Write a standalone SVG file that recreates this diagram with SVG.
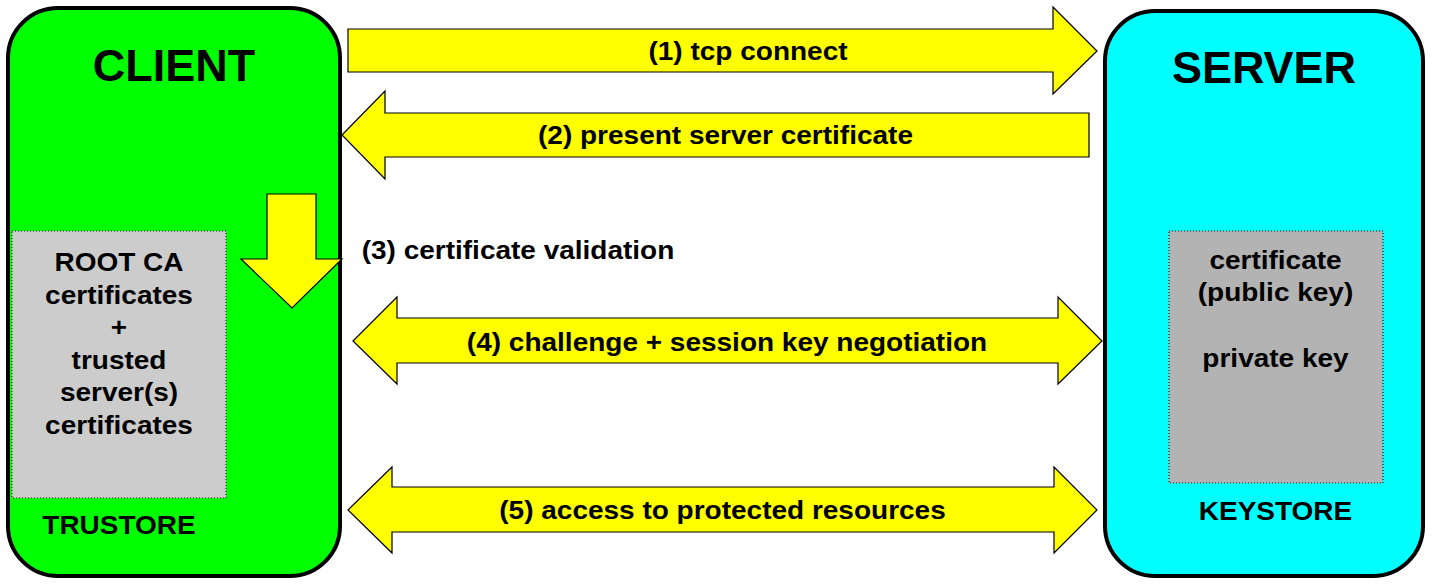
<svg xmlns="http://www.w3.org/2000/svg" width="1435" height="587" viewBox="0 0 1435 587">
<style>
text{font-family:"Liberation Sans",Arial,sans-serif;font-weight:bold;fill:#000;text-anchor:middle}
.title{font-size:45px}
.lbl{font-size:25px}
.box{stroke:#000;stroke-width:4}
.store{stroke:#000;stroke-width:1;stroke-dasharray:1 2}
.arrow{fill:#ffff00;stroke:#000;stroke-width:1.2;stroke-linejoin:miter}
</style>
<rect width="1435" height="587" fill="#fff"/>
<g id="client">
<rect class="box" x="8" y="8" width="332" height="568" rx="50" ry="50" fill="#00ff00"/>
<text class="title" x="174" y="81">CLIENT</text>
</g>
<g id="truststore">
<rect class="store" x="12" y="231" width="214" height="267" fill="#cccccc"/>
<g transform="translate(119 0) scale(1.12 1)">
<text class="lbl" x="0" y="271.5">ROOT CA</text>
<text class="lbl" x="0" y="304">certificates</text>
<text class="lbl" x="0" y="336.5">+</text>
<text class="lbl" x="0" y="369">trusted</text>
<text class="lbl" x="0" y="401.5">server(s)</text>
<text class="lbl" x="0" y="434">certificates</text>
<text class="lbl" x="0" y="534">TRUSTORE</text>
</g>
</g>
<g id="server">
<rect class="box" x="1105" y="11" width="318" height="565" rx="50" ry="50" fill="#00ffff"/>
<text class="title" x="1264" y="83">SERVER</text>
</g>
<g id="keystore">
<rect class="store" x="1169" y="231" width="214" height="252" fill="#b3b3b3"/>
<g transform="translate(1275.5 0) scale(1.12 1)">
<text class="lbl" x="0" y="269">certificate</text>
<text class="lbl" x="0" y="301.5">(public key)</text>
<text class="lbl" x="0" y="367">private key</text>
<text class="lbl" x="0" y="520.5">KEYSTORE</text>
</g>
</g>
<g id="connectors">
<polygon class="arrow" points="348,29 1053,29 1053,7 1097,51 1053,94 1053,72 348,72"/>
<polygon class="arrow" points="342,135 385,91 385,113 1089,113 1089,157 385,157 385,179"/>
<polygon class="arrow" points="267,194 316,194 316,259 342,259 292,308 241,259 267,259"/>
<polygon class="arrow" points="353,341 397,297 397,318 1058,318 1058,297 1102,341 1058,384 1058,363 397,363 397,384"/>
<polygon class="arrow" points="348,510 392,467 392,487 1054,487 1054,467 1097,510 1054,553 1054,532 392,532 392,553"/>
<g transform="translate(748 0) scale(1.12 1)"><text class="lbl" x="0" y="60">(1) tcp connect</text></g>
<g transform="translate(725.5 0) scale(1.12 1)"><text class="lbl" x="0" y="144">(2) present server certificate</text></g>
<g transform="translate(518 0) scale(1.12 1)"><text class="lbl" x="0" y="259">(3) certificate validation</text></g>
<g transform="translate(727 0) scale(1.12 1)"><text class="lbl" x="0" y="351">(4) challenge + session key negotiation</text></g>
<g transform="translate(722.5 0) scale(1.12 1)"><text class="lbl" x="0" y="519">(5) access to protected resources</text></g>
</g>
</svg>
